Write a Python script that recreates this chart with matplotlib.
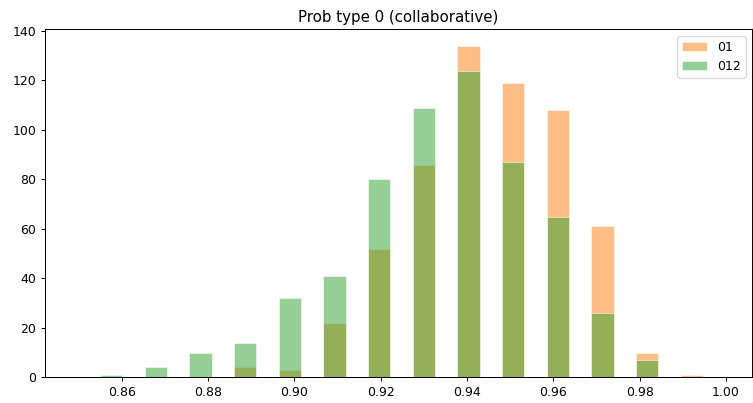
import matplotlib
matplotlib.use("Agg")
import matplotlib.pyplot as plt

# bin centres (hist with rwidth=0.5)
bin_centers = [0.8575, 0.8679, 0.8782, 0.8886, 0.8989, 0.9093, 0.9196,
               0.9300, 0.9403, 0.9507, 0.9610, 0.9714, 0.9817, 0.9921]
bin_width = 0.01035

counts_01 = [0, 0, 0, 4, 3, 22, 52, 86, 134, 119, 108, 61, 10, 1]
counts_012 = [1, 4, 10, 14, 32, 41, 80, 109, 124, 87, 65, 26, 7, 0]

DPI = 90
fig = plt.figure(figsize=(753 / DPI, 403 / DPI), dpi=DPI)
ax = fig.add_axes([45 / 753, (403 - 377.3) / 403, 707 / 753, 348 / 403])

ax.bar(bin_centers, counts_01, width=bin_width * 0.5, color='C1', alpha=0.5,
       edgecolor='white', linewidth=0.8, label='01')
ax.bar(bin_centers, counts_012, width=bin_width * 0.5, color='C2', alpha=0.5,
       edgecolor='white', linewidth=0.8, label='012')

ax.set_xlim(0.8422, 1.0060)
ax.set_ylim(0, max(counts_01) * 1.05)
ax.set_xticks([0.86, 0.88, 0.90, 0.92, 0.94, 0.96, 0.98, 1.00])
ax.set_title('Prob type 0 (collaborative)')
ax.legend(loc='upper right')

fig.savefig('out.png', dpi=DPI)
